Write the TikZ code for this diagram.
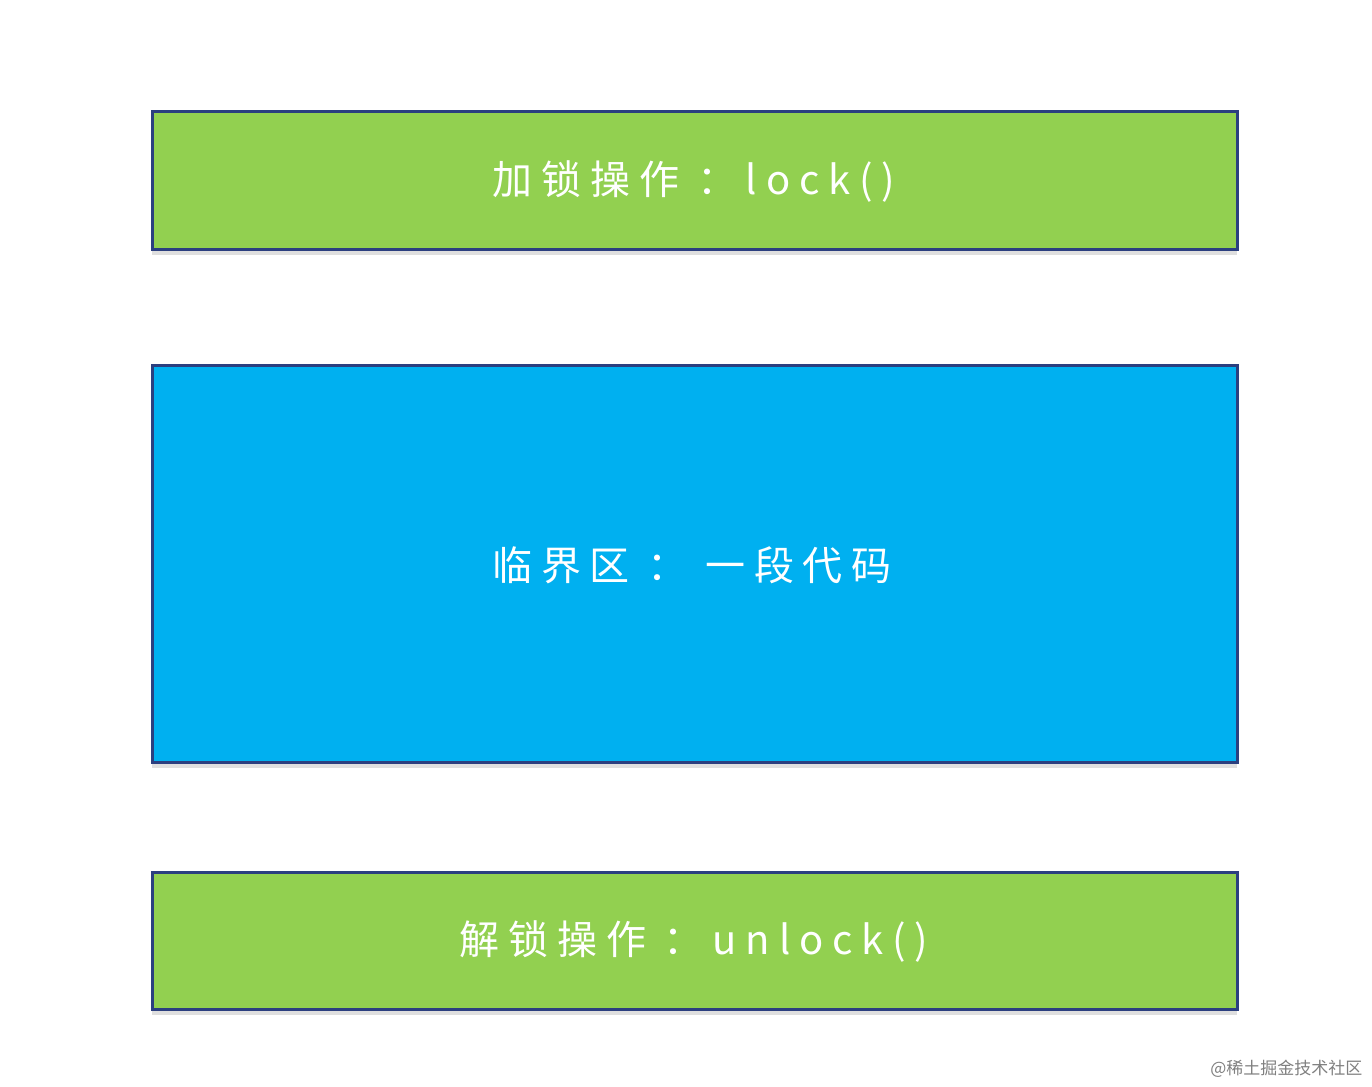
\documentclass[tikz,border=0pt]{standalone}
\usepackage{fontspec}
\setmainfont{Noto Sans CJK SC}
\newfontfamily\spaced[LetterSpace=22]{Noto Sans CJK SC}
\usetikzlibrary{shadows}
\definecolor{gr}{HTML}{92D050}
\definecolor{bl}{HTML}{00B0F0}
\definecolor{bd}{HTML}{2B3F7F}
\begin{document}
\begin{tikzpicture}[x=1pt,y=-1pt,
  box/.style={draw=bd,line width=3pt,drop shadow={shadow xshift=0pt,shadow yshift=-6pt,opacity=0.25}},
  lbl/.style={text=white,font=\spaced\fontsize{40}{48}\selectfont}]
\useasboundingbox (0,0) rectangle (1372,1086);
\fill[white] (0,0) rectangle (1372,1086);
\path[box,fill=gr] (152,112) rectangle (1237,249);
\path[box,fill=bl] (152,365) rectangle (1237,762);
\path[box,fill=gr] (152,872) rectangle (1237,1009);
\node[lbl] (t1) at (694,181) {加锁操作 ：lock()};
\node[lbl] (t2) at (692,565) {临界区 ： 一段代码};
\node[lbl] (t3) at (694,941) {解锁操作 ：unlock()};
\node[text=gray,font=\fontsize{17}{20}\selectfont,anchor=east] (wm) at (1366,1069) {@稀土掘金技术社区};
\end{tikzpicture}
\end{document}
